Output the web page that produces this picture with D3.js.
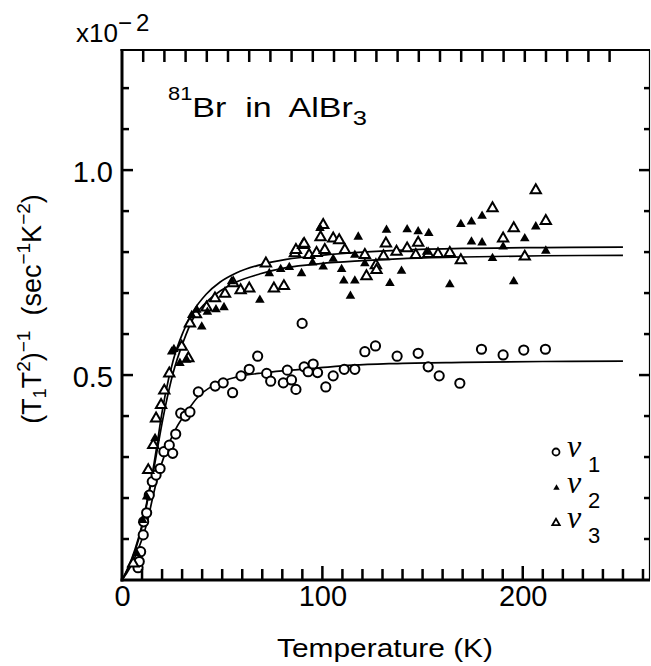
<!DOCTYPE html>
<html>
<head>
<meta charset="utf-8">
<script src="https://cdnjs.cloudflare.com/ajax/libs/d3/7.8.5/d3.min.js"></script>
<style>
  body { margin: 0; background: #fff; }
  svg { display: block; }
  text { font-family: "Liberation Sans", Arial, sans-serif; fill: #000; }
</style>
</head>
<body>
<svg width="651" height="666"></svg>
<script>
// [T (K), (T1T2)^-1 in units of 1e-2 sec^-1 K^-2]
const nu1 = [[8.0,0.03],[8.6,0.045],[9.3,0.069],[10.6,0.11],[10.8,0.142],[12.3,0.164],[13.6,0.207],[15.1,0.24],
  [17.0,0.256],[19.0,0.272],[20.9,0.313],[23.6,0.329],[25.3,0.309],[26.8,0.356],[29.3,0.407],[31.6,0.4],[33.9,0.41],
  [38.1,0.459],[46.5,0.473],[50.5,0.481],[55.2,0.457],[59.4,0.498],[63.5,0.514],[67.7,0.546],[72.2,0.504],[74.2,0.485],
  [80.5,0.481],[82.5,0.512],[84.6,0.488],[86.8,0.465],[89.9,0.626],[90.9,0.52],[92.9,0.508],[95.4,0.527],[97.6,0.506],
  [101.7,0.471],[105.4,0.498],[110.9,0.514],[116.2,0.514],[121.2,0.557],[126.5,0.571],[137.3,0.546],[147.8,0.553],
  [152.8,0.52],[158.3,0.498],[168.6,0.48],[179.4,0.563],[190.2,0.549],[200.5,0.561],[211.3,0.563]];

const nu2 = [[7.3,0.065],[10.3,0.146],[12.3,0.203],[16.5,0.346],[24.8,0.557],[25.9,0.563],[28.9,0.529],[32.3,0.537],
  [34.8,0.646],[37.3,0.659],[39.8,0.618],[42.6,0.654],[46.9,0.66],[50.9,0.665],[54.7,0.728],[68.8,0.683],[73.5,0.748],
  [79.2,0.758],[83.5,0.763],[89.6,0.748],[95.1,0.774],[98.8,0.858],[100.4,0.764],[105.4,0.783],[109.6,0.758],[110.7,0.73],
  [114,0.693],[116.2,0.73],[116.2,0.793],[117.9,0.837],[121.2,0.772],[132,0.854],[133.7,0.724],[139.5,0.754],[142.3,0.855],
  [147.8,0.85],[152,0.8],[153.1,0.846],[163.6,0.721],[169.1,0.868],[174.4,0.874],[174.4,0.825],[179.7,0.888],[179.7,0.823],
  [184.9,0.785],[190.2,0.813],[195.5,0.728],[201,0.833],[206.5,0.862],[211.5,0.803]];

const nu3 = [[5.6,0.04],[13.1,0.268],[15.6,0.329],[17,0.394],[19.5,0.427],[21.1,0.462],[23.6,0.504],[29.8,0.569],
  [33.1,0.541],[33.9,0.626],[36.9,0.648],[42.2,0.665],[46.4,0.687],[51.4,0.698],[55.5,0.724],[59.2,0.707],[63.5,0.711],
  [71.8,0.772],[75.8,0.711],[80.8,0.717],[86.3,0.797],[86.8,0.805],[90.4,0.817],[90.9,0.82],[93.4,0.793],[97.1,0.798],
  [99.1,0.836],[100.4,0.866],[101.2,0.805],[105.4,0.833],[108.4,0.829],[111.2,0.805],[121.2,0.793],[122,0.741],
  [126.7,0.768],[127,0.756],[130.5,0.79],[131.7,0.821],[137,0.801],[142.3,0.809],[146.6,0.793],[147.8,0.823],
  [152.8,0.795],[157.7,0.795],[163.6,0.798],[169.1,0.78],[184.9,0.907],[190.2,0.833],[195.5,0.858],[201,0.789],
  [206.5,0.951],[211.5,0.876]];

// fitted curves
const fit1 = [[0,0],[4,0.03],[7.5,0.068],[10,0.1],[12.5,0.14],[15.5,0.205],[18,0.255],[22,0.315],[27,0.37],[32,0.408],
  [38,0.447],[45,0.473],[52,0.488],[60,0.498],[70,0.505],[82,0.511],[99,0.518],[115,0.524],[135,0.528],[170,0.531],
  [210,0.533],[250,0.534]];
const fitA = [[0,0],[3,0.03],[6.5,0.075],[10.5,0.145],[13,0.205],[15.5,0.27],[17.5,0.33],[19.5,0.395],[21.5,0.45],
  [25.5,0.535],[30.5,0.605],[35.5,0.655],[42,0.697],[49,0.727],[57,0.749],[69,0.769],[82,0.782],[99,0.792],[120,0.8],
  [140,0.805],[170,0.809],[210,0.811],[250,0.812]];
const fitB = [[0,0],[3,0.028],[6.5,0.07],[10.5,0.14],[13,0.2],[15.5,0.26],[17.5,0.315],[19.5,0.37],[21.5,0.42],
  [25.5,0.505],[30.5,0.58],[35.5,0.638],[42,0.677],[49,0.705],[57,0.727],[69,0.747],[82,0.762],[99,0.772],[120,0.779],
  [140,0.784],[170,0.788],[210,0.791],[250,0.792]];

const xMinor = d3.range(10, 261, 10);
const xLabels = [0, 100, 200];
const xTopTicks = d3.range(10, 231, 10);
const yMinor = d3.range(1, 13).map(i => i / 10);
const yLabels = [0.5, 1.0];
const legendItems = ["1", "2", "3"];

const svg = d3.select("svg");
const x = d3.scaleLinear().domain([0, 263.5]).range([122, 650]);
const xTop = d3.scaleLinear().domain([0, 230]).range([122, 609.6]); // top ticks in the scan are slightly wider apart
const y = d3.scaleLinear().domain([0, 1.293]).range([580, 50]);
const xa = x.range()[0], xb = x.range()[1], ya = y.range()[0], yb = y.range()[1];

// fitted curves
const curve = d3.line().x(d => x(d[0])).y(d => y(d[1])).curve(d3.curveMonotoneX);
svg.append("g").attr("fill", "none").attr("stroke", "#000").attr("stroke-width", 1.7)
  .selectAll("path").data([fit1, fitA, fitB]).join("path").attr("d", curve);

// data points
svg.append("g").selectAll("circle").data(nu1).join("circle")
  .attr("cx", d => x(d[0])).attr("cy", d => y(d[1])).attr("r", 4.6)
  .attr("fill", "#fff").attr("stroke", "#000").attr("stroke-width", 2);

const triFilled = d3.symbol(d3.symbolTriangle, 40);
const triOpen = d3.symbol(d3.symbolTriangle, 46);
svg.append("g").selectAll("path").data(nu3).join("path")
  .attr("transform", d => `translate(${x(d[0])},${y(d[1])})`).attr("d", triOpen)
  .attr("fill", "#fff").attr("stroke", "#000").attr("stroke-width", 2);
svg.append("g").selectAll("path").data(nu2).join("path")
  .attr("transform", d => `translate(${x(d[0])},${y(d[1])})`).attr("d", triFilled)
  .attr("fill", "#000");

// frame
const frame = svg.append("g").attr("stroke", "#000").attr("fill", "none");
frame.append("line").attr("x1", xa).attr("x2", xa).attr("y1", yb - 1).attr("y2", ya + 1.5).attr("stroke-width", 3);
frame.append("line").attr("x1", xa - 1.5).attr("x2", xb).attr("y1", ya).attr("y2", ya).attr("stroke-width", 3);
frame.append("line").attr("x1", xa - 1.5).attr("x2", xb).attr("y1", yb).attr("y2", yb).attr("stroke-width", 2);
frame.append("line").attr("x1", xb - 0.5).attr("x2", xb - 0.5).attr("y1", yb).attr("y2", ya).attr("stroke-width", 1.2);

// tick labels
const bottomAx = svg.append("g")
  .attr("transform", `translate(0,${ya})`)
  .call(d3.axisBottom(x).tickValues(xLabels).tickSize(0).tickPadding(5));
bottomAx.select(".domain").remove();
bottomAx.selectAll(".tick line").remove();
bottomAx.selectAll("text").attr("font-size", 29);

const leftAx = svg.append("g")
  .attr("transform", `translate(${xa},0)`)
  .call(d3.axisLeft(y).tickValues(yLabels).tickSize(0).tickPadding(9).tickFormat(d3.format(".1f")));
leftAx.select(".domain").remove();
leftAx.selectAll(".tick line").remove();
leftAx.selectAll("text").attr("font-size", 29).attr("dy", "0.41em");

// legend
const leg = svg.append("g");
const legY = [452, 488, 523];
leg.append("circle").attr("cx", 556).attr("cy", legY[0]).attr("r", 3.5)
  .attr("fill", "#fff").attr("stroke", "#000").attr("stroke-width", 1.8);
leg.append("path").attr("transform", `translate(556.5,${legY[1]})`).attr("d", d3.symbol(d3.symbolTriangle, 18)).attr("fill", "#000");
leg.append("path").attr("transform", `translate(556,${legY[2]})`).attr("d", d3.symbol(d3.symbolTriangle, 24))
  .attr("fill", "#fff").attr("stroke", "#000").attr("stroke-width", 1.8);
legendItems.forEach((s, i) => {
  const t = leg.append("text").attr("x", 567).attr("y", legY[i] + 5);
  t.append("tspan").attr("font-family", "'Liberation Serif', serif").attr("font-style", "italic").attr("font-size", 32).text("ν");
  t.append("tspan").attr("x", 588).attr("dy", 15).attr("font-size", 22).text(s);
});

// annotation
const ann = svg.append("text").attr("x", 168).attr("y", 117).attr("font-size", 28)
  .attr("textLength", 199).attr("lengthAdjust", "spacingAndGlyphs")
  .style("white-space", "pre");
ann.append("tspan").attr("dy", -17).attr("font-size", 18).text("81");
ann.append("tspan").attr("dy", 17).text("Br  in  AlBr");
ann.append("tspan").attr("dy", 8).attr("font-size", 21).text("3");

// exponent label
const ex = svg.append("text").attr("x", 76).attr("y", 42).attr("font-size", 26);
ex.append("tspan").text("x10");
ex.append("tspan").attr("dy", -11).attr("font-size", 24).attr("letter-spacing", 4).text("−2");

// axis titles
svg.append("text").attr("x", 385).attr("y", 657).attr("font-size", 26).attr("text-anchor", "middle")
  .attr("textLength", 216).attr("lengthAdjust", "spacingAndGlyphs").text("Temperature (K)");

const yl = svg.append("text").attr("transform", "translate(41,309) rotate(-90)")
  .attr("font-size", 27).attr("text-anchor", "middle").style("white-space", "pre");
yl.append("tspan").text("(T");
yl.append("tspan").attr("dy", 5).attr("font-size", 18).text("1");
yl.append("tspan").attr("dy", -5).text("T");
yl.append("tspan").attr("dy", -11).attr("font-size", 19).text("2");
yl.append("tspan").attr("dy", 11).text(")");
yl.append("tspan").attr("dy", -11).attr("font-size", 19).text("−1");
yl.append("tspan").attr("dy", 11).text("  (sec");
yl.append("tspan").attr("dy", -11).attr("font-size", 19).text("−1");
yl.append("tspan").attr("dy", 11).text("K");
yl.append("tspan").attr("dy", -11).attr("font-size", 19).text("−2");
yl.append("tspan").attr("dy", 11).text(")");

// inward ticks on all four sides, drawn last
const tickG = svg.append("g").attr("stroke", "#000").attr("stroke-width", 2.5).attr("stroke-linecap", "butt");
tickG.selectAll("line.b").data(xMinor).join("line").attr("class", "b")
  .attr("x1", d => x(d)).attr("x2", d => x(d))
  .attr("y1", ya).attr("y2", d => ya - (xLabels.includes(d) ? 14 : 11));
tickG.selectAll("line.t").data(xTopTicks).join("line").attr("class", "t")
  .attr("x1", d => xTop(d)).attr("x2", d => xTop(d))
  .attr("y1", yb).attr("y2", yb + 12);
tickG.selectAll("line.l").data(yMinor).join("line").attr("class", "l")
  .attr("x1", xa).attr("x2", d => xa + (yLabels.includes(d) ? 11 : 7))
  .attr("y1", d => y(d)).attr("y2", d => y(d));
tickG.selectAll("line.r").data(yMinor).join("line").attr("class", "r")
  .attr("x1", xb).attr("x2", d => xb - (yLabels.includes(d) ? 11 : 6))
  .attr("y1", d => y(d)).attr("y2", d => y(d));
</script>
</body>
</html>
